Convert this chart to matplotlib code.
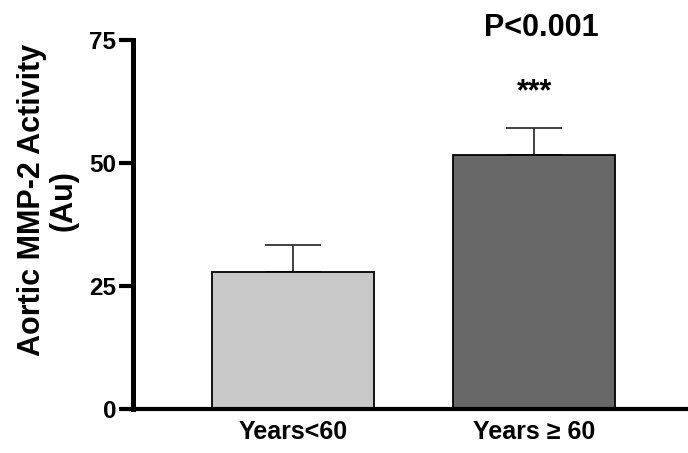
import matplotlib.pyplot as plt

# ----------- DATA -------------
groups = ["Years<60", "Years \u2265 60"]
means = [27.8, 51.6]
sem = [5.5, 5.5]
bar_colors = ["#c8c8c8", "#686868"]
yticks = [0, 25, 50, 75]

plt.rcParams['font.family'] = ['Liberation Sans', 'DejaVu Sans']
plt.rcParams['font.weight'] = 'bold'

fig = plt.figure(figsize=(6.88, 4.53), dpi=100)
ax = fig.add_axes([0.1933, 0.0971, 0.8067, 0.8146])

x = list(range(len(groups)))
ax.bar(x, means, width=0.67, color=bar_colors, edgecolor="black",
       linewidth=1.3, zorder=2)
ax.errorbar(x, means, yerr=[[0, 0], sem], fmt="none", ecolor="#333333",
            elinewidth=1.3, capsize=20, capthick=1.3, zorder=1)

ax.set_xlim(-0.662, 1.636)
ax.set_ylim(0, 75)
ax.set_yticks(yticks)
ax.set_yticklabels([str(t) for t in yticks], fontsize=17.5, fontweight="bold")
ax.set_xticks(x)
ax.set_xticklabels(groups, fontsize=18, fontweight="bold")
ax.tick_params(axis="y", length=10, width=3, pad=2)
ax.tick_params(axis="x", length=0, pad=8)

for side in ["top", "right"]:
    ax.spines[side].set_visible(False)
ax.spines["left"].set_linewidth(3.6)
ax.spines["bottom"].set_linewidth(3.0)

ax.set_ylabel("Aortic MMP-2 Activity\n(Au)", fontsize=22, fontweight="bold",
              linespacing=1.05)
ax.yaxis.set_label_coords(-0.099, 0.566)

ax.text(1.03, 77.4, "P<0.001", ha="center", va="center", fontsize=22,
        fontweight="bold", clip_on=False)
ax.text(1, 64.4, "***", ha="center", va="center", fontsize=22,
        fontweight="bold")

fig.savefig("out.png", dpi=100)
